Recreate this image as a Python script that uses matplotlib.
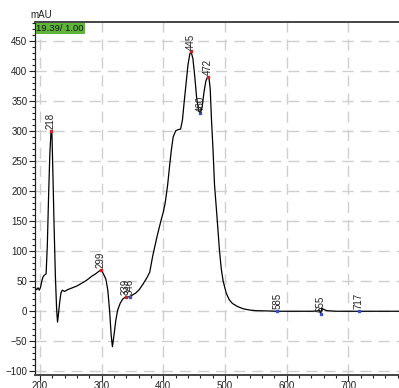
import matplotlib
matplotlib.use("Agg")
import matplotlib.pyplot as plt
from matplotlib.ticker import MultipleLocator

plt.rcParams['font.family'] = ['Liberation Sans', 'DejaVu Sans']

wavelength = [192, 195, 197, 199, 201, 203, 205, 207, 210, 212, 214, 216, 218, 219.5, 221, 223, 225, 227,
              228.5, 230, 232, 234, 236, 240, 245, 250, 255, 260, 265, 270, 275, 280, 285, 290, 295, 299,
              303, 307, 310, 313, 315.5, 317.5, 320, 323, 326, 330, 334, 339, 343, 346, 350, 355, 361, 367,
              373, 378, 383, 390, 396, 400, 403, 407, 410, 413, 416, 420, 424, 428, 431, 434, 437, 440, 443,
              445, 448, 451, 454, 457, 460, 463, 466, 469, 472, 474, 476, 478, 480.5, 483, 487, 491, 494, 497,
              502, 507, 512, 520, 530, 540, 550, 570, 585, 600, 620, 640, 650, 653, 655, 657, 660, 665, 680,
              717, 740, 782]
absorbance = [38, 36, 39, 35, 40, 50, 57, 60, 62, 110, 190, 260, 300, 295, 230, 140, 60, 5,
              -18, -5, 15, 30, 35, 33, 36, 38, 40, 42, 45, 48, 51, 55, 59, 62, 66, 69,
              62, 53, 35, 0, -40, -59, -40, -15, 2, 13, 20, 24, 24, 24, 27, 30, 36, 45,
              55, 65, 93, 125, 150, 165, 180, 210, 240, 268, 290, 300, 302, 303, 318, 350, 380, 410, 428,
              432, 420, 390, 355, 335, 329, 340, 365, 383, 390, 388, 370, 320, 270, 210, 157, 101, 70, 50,
              30, 19, 13, 8, 4, 2, 1, 0.5, 0, 0, 0, 0, 0.5, 2, -4, 5, 3, 1, 0,
              0, 0, 0]

peak_wl = [218, 299, 339, 346, 445, 460, 472, 585, 655, 717]
peak_abs = [300, 69, 24, 24, 432, 329, 390, 0, -4, 0]
peak_kind = ['max', 'max', 'max', 'min', 'max', 'min', 'max', 'min', 'min', 'min']
peak_labels = ['218', '299', '339', '346', '445', '460', '472', '585', '655', '717']

x_ticks = [200, 300, 400, 500, 600, 700]
y_ticks = [-100, -50, 0, 50, 100, 150, 200, 250, 300, 350, 400, 450]

fig = plt.figure(figsize=(3.99, 3.88), dpi=100)
ax = fig.add_axes([0.0877, 0.0335, 0.9123, 0.9098])
ax.set_xlim(192, 782)
ax.set_ylim(-106, 481)

ax.plot(wavelength, absorbance, color='black', lw=0.9, zorder=3)

for xw, ya, kind, lab in zip(peak_wl, peak_abs, peak_kind, peak_labels):
    c = '#d42020' if kind == 'max' else '#3a50c8'
    ax.plot([xw], [ya], marker='s', ms=1.5, color=c, mec=c, zorder=4, ls='none')
    ax.text(xw, ya + 3, lab, rotation=90, ha='center', va='bottom', fontsize=7, color='#222222', zorder=5)

ax.set_xticks(x_ticks)
ax.set_yticks(y_ticks)
ax.xaxis.set_minor_locator(MultipleLocator(20))
ax.yaxis.set_minor_locator(MultipleLocator(10))
ax.tick_params(axis='x', which='major', pad=0.5)
ax.tick_params(axis='y', which='major', pad=1.5)
ax.tick_params(axis='both', which='major', labelsize=7, length=4, width=0.8, colors='#222222')
ax.tick_params(axis='both', which='minor', length=2, width=0.8, colors='#222222')
ax.grid(True, which='major', color='#cfcfcf', ls=(0, (8, 5)), lw=1.0, zorder=1)

for s in ['top', 'bottom']:
    ax.spines[s].set_color('#444444')
    ax.spines[s].set_linewidth(1.4)
ax.spines['left'].set_color('#222222')
ax.spines['left'].set_linewidth(0.9)
ax.spines['right'].set_visible(False)

ax.text(0.004, 0.995, '19.39/ 1.00', transform=ax.transAxes, ha='left', va='top', fontsize=6.8,
        color='#111111', zorder=6,
        bbox=dict(boxstyle='square,pad=0.1', fc='#5fb43a', ec='none'))
fig.text(0.075, 0.948, 'mAU', fontsize=7, ha='left', va='bottom', color='#222222')

fig.savefig('out.png', dpi=100)
